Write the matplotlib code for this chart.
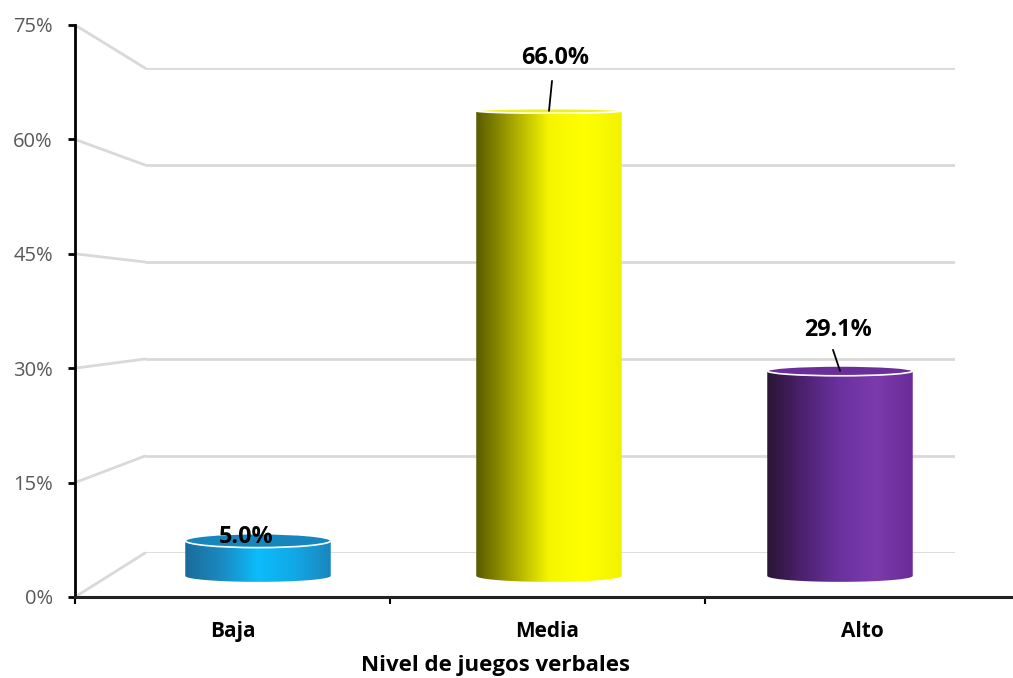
import numpy as np
import matplotlib
matplotlib.use("Agg")
import matplotlib.pyplot as plt
from matplotlib.colors import LinearSegmentedColormap
from matplotlib.patches import Polygon, Ellipse, ConnectionPatch

plt.rcParams['font.family'] = ['Open Sans', 'DejaVu Sans']

categories = ['Baja', 'Media', 'Alto']
values = [5.0, 66.0, 29.1]
value_labels = ['5.0%', '66.0%', '29.1%']
yticks = [0, 15, 30, 45, 60, 75]
xlabel = 'Nivel de juegos verbales'

# gradient stops for each cylinder (left -> right) and its top cap colour
grads = [
    ['#1a6c99', '#1b8ac2', '#0bbcfb', '#12a8e6', '#1a86bd'],
    ['#5a5a00', '#a6a600', '#f5f500', '#ffff00', '#f2f200'],
    ['#2a1535', '#4d2270', '#6b31a0', '#7b3bab', '#6a2c98'],
]
caps = ['#1686bd', '#f0f020', '#6a2e9b']
# label offsets in pixels from bar top, and leader start/end offsets
lab_off = [(-12, 4), (6, 53), (-2, 41)]
lead_off = [None, ((3, 30), (-2, 4)), ((-7, 21), (8, 1))]

W, H = 1013, 678
fig = plt.figure(figsize=(W / 100, H / 100), dpi=100)


def rect(l, t, r, b):
    return [l / W, 1 - b / H, (r - l) / W, (b - t) / H]


# back wall with its gridlines
axb = fig.add_axes(rect(145, 68, 955, 553), zorder=0)
axb.set_xlim(0, 1)
axb.set_ylim(0, 75)
axb.axis('off')
axb.hlines(yticks, 0, 1, color='#d9d9d9', lw=2)

# front axis (spines, ticks, labels)
axf = fig.add_axes(rect(75, 25, 1020, 597), zorder=1)
axf.patch.set_visible(False)
axf.set_xlim(-0.5, 2.5)
axf.set_ylim(0, 75)
for s in ['top', 'right']:
    axf.spines[s].set_visible(False)
axf.spines['left'].set_linewidth(2)
axf.spines['bottom'].set_linewidth(2.2)
axf.spines['bottom'].set_color('#222222')
axf.set_yticks(yticks)
axf.set_yticklabels(['%d%%' % t for t in yticks])
axf.tick_params(axis='y', length=5, width=2, pad=11, labelsize=14.5,
                labelcolor='#595959')
axf.set_xticks(range(len(categories)))
axf.set_xticklabels(categories, fontweight='bold')
axf.set_xticks([-0.5, 0.5, 1.5, 2.5], minor=True)
axf.tick_params(axis='x', which='major', length=0, pad=17, labelsize=15)
axf.tick_params(axis='x', which='minor', length=5, width=1.5)
axf.set_xlabel(xlabel, fontweight='bold', fontsize=16, labelpad=10)
axf.xaxis.label.set_x(0.445)

for t in yticks:
    cp = ConnectionPatch((0, t), (0, t), coordsA=axf.get_yaxis_transform(),
                         coordsB=axb.get_yaxis_transform(),
                         color='#d9d9d9', lw=2)
    fig.add_artist(cp)
    cp.set_zorder(0)

# cylinders
axc = fig.add_axes(rect(112.5, 47.5, 985.5, 597), zorder=2)
axc.patch.set_visible(False)
axc.axis('off')

w = 0.5
hb = 0.85
grad = np.linspace(0, 1, 256).reshape(1, -1)
for i, (v, lab) in enumerate(zip(values, value_labels)):
    ht = max(0.33, 1.05 - 0.012 * v)
    tb = np.linspace(np.pi, 2 * np.pi, 60)
    tt = np.linspace(0, np.pi, 60)
    xs = np.concatenate([i + w / 2 * np.cos(tb), i + w / 2 * np.cos(tt)])
    ys = np.concatenate([hb * np.sin(tb), v + ht * np.sin(tt)])
    body = Polygon(np.column_stack([xs, ys]), closed=True, fc='none', ec='none')
    axc.add_patch(body)
    cmap = LinearSegmentedColormap.from_list('c%d' % i, grads[i])
    im = axc.imshow(grad, cmap=cmap, aspect='auto',
                    extent=(i - w / 2, i + w / 2, -hb, v + ht), zorder=2)
    im.set_clip_path(body)
    axc.add_patch(Ellipse((i, v), w, 2 * ht, fc=caps[i], ec='white',
                          lw=1.2, zorder=3))

    axc.annotate(lab, (i, v), xytext=lab_off[i], textcoords='offset pixels',
                 ha='center', va='center', fontsize=16.8, fontweight='bold',
                 annotation_clip=False, zorder=5)
    if lead_off[i] is not None:
        (sx, sy), (ex, ey) = lead_off[i]
        axc.annotate('', (i, v), xytext=(sx, sy), textcoords='offset pixels',
                     arrowprops=dict(arrowstyle='-', color='black', lw=1.3,
                                     shrinkA=0, shrinkB=0),
                     annotation_clip=False)

axc.set_xlim(-0.5, 2.5)
axc.set_ylim(-3, 75)

fig.savefig('out.png', dpi=100)
